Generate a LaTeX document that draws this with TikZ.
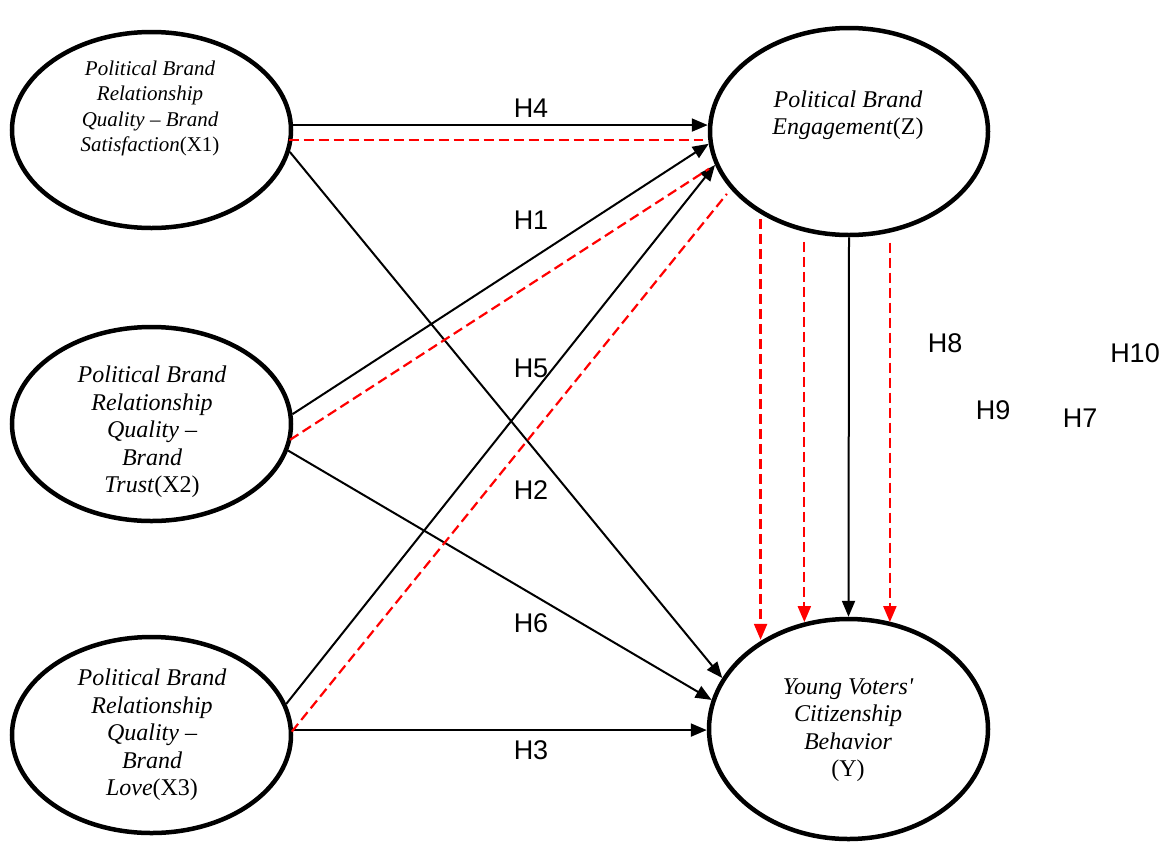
\documentclass[tikz,border=0pt]{standalone}
\usepackage{fontspec}
\setmainfont{Liberation Serif}[Ligatures=TeXOff]
\newfontfamily\hfont{Liberation Sans}
\usetikzlibrary{shapes.geometric,arrows.meta,calc}
\begin{document}
\begin{tikzpicture}[x=1pt,y=-1pt,
  latent/.style={ellipse,draw=black,line width=4.5pt,inner sep=0pt},
  lbl/.style={align=center,font=\fontsize{24}{27.5}\selectfont\itshape,inner sep=0pt},
  lblsmall/.style={align=center,font=\fontsize{21}{25.5}\selectfont\itshape,inner sep=0pt},
  hyp/.style={font=\hfont\fontsize{27}{30}\selectfont,inner sep=0pt},
  tip/.style={-{Triangle[length=16pt,width=13pt]}},
  direct/.style={draw=black,line width=2pt,tip},
  med/.style={draw=red,line width=2.2pt,dash pattern=on 10pt off 5pt},
  medtip/.style={med,tip}
]
\useasboundingbox (0,0) rectangle (1161,841);

% latent variables
\node[latent,minimum width=279pt,minimum height=196pt] (X1) at (151.5,130) {};
\node[latent,minimum width=279pt,minimum height=194pt] (X2) at (151.5,424) {};
\node[latent,minimum width=279pt,minimum height=196pt] (X3) at (151.5,735) {};
\node[latent,minimum width=278pt,minimum height=207pt] (Z) at (849,131.5) {};
\node[latent,minimum width=279pt,minimum height=220pt] (Y) at (848.5,729) {};

% texts
\node[lblsmall] (X1t) at (150,108.5) {Political Brand\\Relationship\\Quality – Brand\\Satisfaction\textup{(X1)}};
\node[lbl] (X2t) at (152,432) {Political Brand\\Relationship\\Quality –\\Brand\\Trust\textup{(X2)}};
\node[lbl] (X3t) at (152,735) {Political Brand\\Relationship\\Quality –\\Brand\\Love\textup{(X3)}};
\node[lbl] (Zt) at (848,115) {Political Brand\\Engagement\textup{(Z)}};
\node[lbl] (Yt) at (848,730) {Young Voters'\\Citizenship\\Behavior\\\textup{(Y)}};

% direct paths
\draw[direct] (X1.2) -- (X1.2 -| Z.west);
\draw[direct] (X1.351) -- (Y.158);
\draw[direct] (X2.4.8) -- (Z.185.5);
\draw[direct] (X2.349.6) -- (Y.168.1);
\draw[direct] (X3.13.3) -- (Z.194.8);
\draw[direct] (X3.2) -- (X3.2 -| Y.west);
\draw[direct] (Z.south) -- (Y.north);

% mediation paths
\draw[med,shorten <=-4pt,shorten >=5pt] (X1.356.6) -- (X1.356.6 -| Z.west);
\draw[med,shorten <=-2pt,shorten >=7pt] (X2.354.6) -- (Z.194.5);
\draw[med,shorten <=-2pt,shorten >=6pt] (X3.2.8) -- (Z.206);
\draw[medtip,shorten <=5pt] (Z.223.6) -- (Z.223.6 |- Y.134.3);
\draw[medtip,shorten <=10pt] (Z.246.3) -- (Z.246.3 |- Y.112.2);
\draw[medtip,shorten <=10pt] (Z.292.6) -- (Z.292.6 |- Y.68.3);

% hypothesis labels
\node[hyp] (H4) at (531,108) {H4};
\node[hyp] (H1) at (531,220) {H1};
\node[hyp] (H5) at (531,368) {H5};
\node[hyp] (H2) at (531,490) {H2};
\node[hyp] (H6) at (531,623) {H6};
\node[hyp] (H3) at (531,750) {H3};
\node[hyp] (H8) at (945,343) {H8};
\node[hyp] (H10) at (1135,353) {H10};
\node[hyp] (H9) at (993,410) {H9};
\node[hyp] (H7) at (1080,418) {H7};
\end{tikzpicture}
\end{document}
